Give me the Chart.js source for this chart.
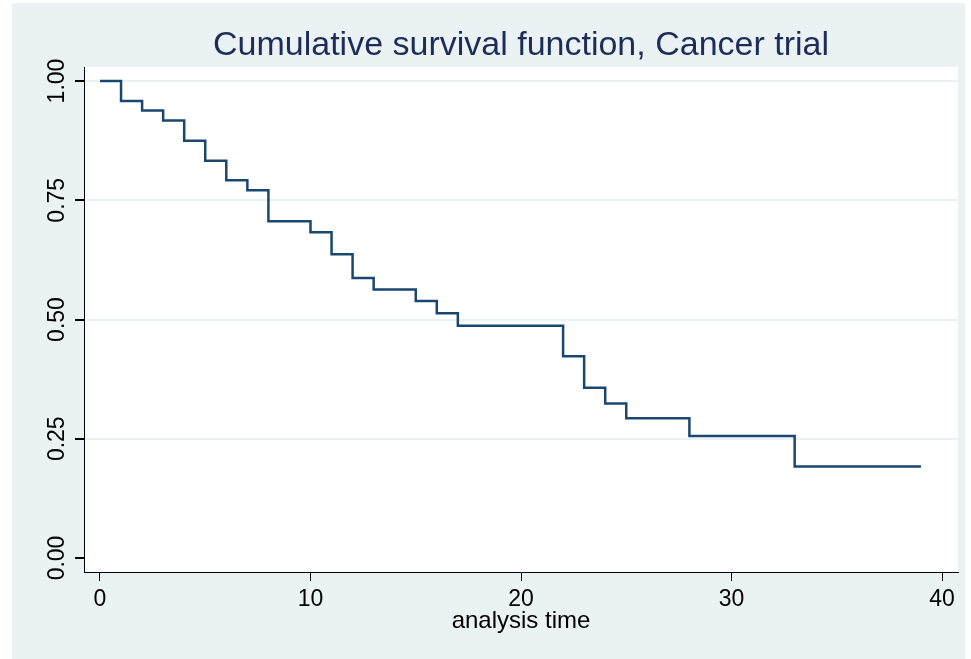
<!DOCTYPE html>
<html>
<head>
<meta charset="utf-8">
<title>Cumulative survival function, Cancer trial</title>
<script src="https://cdn.jsdelivr.net/npm/chart.js@4"></script>
<style>
    html, body {
        margin: 0;
        padding: 0;
        background: #ffffff;
    }
    #graphBox {
        position: absolute;
        left: 12px;
        top: 3px;
        width: 953px;
        height: 656px;
        background: #eaf2f3;
    }
</style>
</head>
<body>
<div id="graphBox">
    <canvas id="survivalChart"></canvas>
</div>
<script>
// Kaplan-Meier Schätzung
const analysisTimes = [0, 1, 2, 3, 4, 5, 6, 7, 8, 9, 10, 11, 12, 13, 15, 16, 17, 19, 20, 22, 23, 24, 25, 28, 32, 33, 34, 35, 39];
const survivalValues = [1.000, 0.958, 0.938, 0.917, 0.875, 0.833, 0.792, 0.771, 0.706, 0.706, 0.683, 0.637, 0.587, 0.563, 0.539, 0.513, 0.487, 0.487, 0.487, 0.423, 0.357, 0.324, 0.293, 0.256, 0.256, 0.192, 0.192, 0.192, 0.192];

const xTickValues = [0, 10, 20, 30, 40];
const yTickValues = [0, 0.25, 0.5, 0.75, 1];
const yTickLabels = ['0.00', '0.25', '0.50', '0.75', '1.00'];

const chartTitle = 'Cumulative survival function, Cancer trial';
const xAxisTitle = 'analysis time';

document.addEventListener('DOMContentLoaded', () => {
    showSurvivalChart();
});

// weisse Plotfläche
const plotAreaBackground = {
    id: 'plotAreaBackground',
    beforeDraw(chart) {
        const { ctx, chartArea } = chart;
        ctx.save();
        ctx.fillStyle = '#ffffff';
        ctx.fillRect(chartArea.left, chartArea.top, chartArea.right - chartArea.left, chartArea.bottom - chartArea.top);
        ctx.restore();
    }
};

// Titel über der Plotfläche zentriert (Stata-Stil)
const plotTitle = {
    id: 'plotTitle',
    afterDraw(chart) {
        const { ctx, chartArea } = chart;
        ctx.save();
        ctx.fillStyle = '#1e2c58';
        ctx.font = '34px "Liberation Sans", Arial, sans-serif';
        ctx.textAlign = 'center';
        ctx.textBaseline = 'alphabetic';
        ctx.fillText(chartTitle, (chartArea.left + chartArea.right) / 2, chartArea.top - 12);
        ctx.restore();
    }
};

// senkrechte Beschriftung der y-Achse
const rotatedYLabels = {
    id: 'rotatedYLabels',
    afterDraw(chart) {
        const { ctx } = chart;
        const yScale = chart.scales.y;
        ctx.save();
        ctx.fillStyle = '#000000';
        ctx.font = '23px "Liberation Sans", Arial, sans-serif';
        ctx.textAlign = 'center';
        ctx.textBaseline = 'alphabetic';
        yTickValues.forEach((value, i) => {
            const y = yScale.getPixelForValue(value);
            ctx.save();
            ctx.translate(yScale.right - 20, y);
            ctx.rotate(-Math.PI / 2);
            ctx.fillText(yTickLabels[i], 0, 0);
            ctx.restore();
        });
        ctx.restore();
    }
};

function showSurvivalChart() {
    const points = analysisTimes.map((t, i) => ({ x: t, y: survivalValues[i] }));
    const ctx = document.getElementById('survivalChart').getContext('2d');

    new Chart(ctx, {
        type: 'line',
        data: {
            datasets: [{
                label: 'Survivor function',
                data: points,
                stepped: 'before',
                borderColor: '#1a476f',
                borderWidth: 2.5,
                pointRadius: 0,
                fill: false,
            }],
        },
        options: {
            responsive: true,
            maintainAspectRatio: false,
            animation: false,
            layout: {
                padding: { left: 0, right: 7, top: 64, bottom: 0 },
            },
            plugins: {
                legend: { display: false },
                tooltip: { enabled: false },
                title: { display: false },
            },
            scales: {
                x: {
                    type: 'linear',
                    min: -0.76,
                    max: 40.76,
                    afterBuildTicks: (scale) => {
                        scale.ticks = xTickValues.map(v => ({ value: v }));
                    },
                    afterFit: (scale) => {
                        scale.height = 87;
                    },
                    ticks: {
                        color: '#000000',
                        padding: 5,
                        maxRotation: 0,
                        font: { family: '"Liberation Sans", Arial, sans-serif', size: 23 },
                    },
                    grid: {
                        drawOnChartArea: false,
                        tickLength: 9,
                        tickColor: '#000000',
                    },
                    border: {
                        color: '#000000',
                        width: 1,
                    },
                    title: {
                        display: true,
                        text: xAxisTitle,
                        color: '#000000',
                        font: { family: '"Liberation Sans", Arial, sans-serif', size: 24, lineHeight: 1.2 },
                        padding: { top: 0, bottom: 23 },
                    },
                },
                y: {
                    type: 'linear',
                    min: -0.0294,
                    max: 1.0294,
                    afterBuildTicks: (scale) => {
                        scale.ticks = yTickValues.map(v => ({ value: v }));
                    },
                    afterFit: (scale) => {
                        scale.width = 72;
                    },
                    ticks: {
                        display: false,
                    },
                    grid: {
                        color: (c) => (c.tick && c.tick.value === 0 ? 'rgba(0,0,0,0)' : '#eaf2f3'),
                        lineWidth: 2,
                        tickLength: 9,
                        tickColor: '#000000',
                    },
                    border: {
                        color: '#000000',
                        width: 1,
                    },
                },
            },
        },
        plugins: [plotAreaBackground, plotTitle, rotatedYLabels],
    });
}
</script>
</body>
</html>
